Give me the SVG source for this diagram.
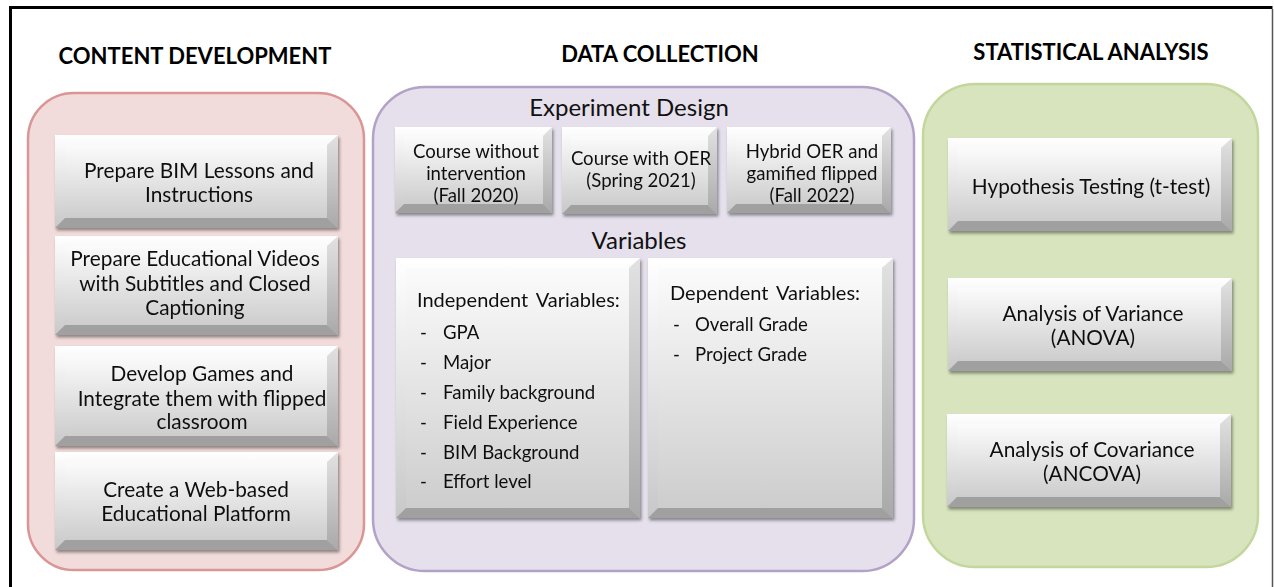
<svg xmlns="http://www.w3.org/2000/svg" width="1274" height="587" viewBox="0 0 1274 587">
<defs>
<linearGradient id="edge" x1="0" y1="0" x2="0" y2="1"><stop offset="0" stop-color="#ffffff"/><stop offset="1" stop-color="#c8c8c8"/></linearGradient>
<linearGradient id="face" x1="0" y1="0" x2="0" y2="1"><stop offset="0" stop-color="#fbfbfb"/><stop offset="1" stop-color="#cdcdcd"/></linearGradient>
<linearGradient id="rgt" x1="0" y1="0" x2="0" y2="1"><stop offset="0" stop-color="#e2e2e2"/><stop offset="1" stop-color="#a9a9a9"/></linearGradient>
<filter id="sh" x="-5%" y="-5%" width="115%" height="120%"><feDropShadow dx="1.5" dy="2.5" stdDeviation="1.5" flood-color="#000" flood-opacity="0.4"/></filter>
</defs>
<style>
text{font-family:Lato,"Open Sans","Liberation Sans",sans-serif;fill:#111}
.hd{font-size:22px;font-weight:bold;text-anchor:middle;fill:#000}
.bx{font-size:20.8px;text-anchor:middle}
.sm{font-size:18.6px;text-anchor:middle}
.sub{font-size:24px;text-anchor:middle}
.lst{font-size:18.6px}
.lh{font-size:20px;word-spacing:3px}
.bottom{fill:#a0a0a0}
.right{fill:url(#rgt)}
.face{fill:url(#face)}
.base{fill:url(#edge)}
</style>
<rect width="1274" height="587" fill="#ffffff"/>
<path d="M10.5 590 V7.5 H1272.5" fill="none" stroke="#000" stroke-width="3"/>
<path d="M1272.5 9 V590" fill="none" stroke="#555" stroke-width="1.5"/>

<g id="content-development">
<text class="hd" x="195" y="64">CONTENT DEVELOPMENT</text>
<rect x="28" y="93" width="336" height="477" rx="46" fill="#f2dcdb" stroke="#d99694" stroke-width="2.5"/>
</g>
<g id="data-collection">
<text class="hd" x="660" y="62">DATA COLLECTION</text>
<rect x="373" y="87" width="541" height="484" rx="52" fill="#e5e0ec" stroke="#b3a2c7" stroke-width="2.5"/>
<text class="sub" x="629" y="116">Experiment Design</text>
<text class="sub" x="639" y="249">Variables</text>
</g>
<g id="statistical-analysis">
<text class="hd" x="1091" y="60">STATISTICAL ANALYSIS</text>
<rect x="923" y="84" width="335" height="483" rx="52" fill="#d7e4bd" stroke="#c3d69b" stroke-width="2.5"/>
</g>

<g id="prepare-bim" filter="url(#sh)">
<rect class="base" x="55" y="135" width="283" height="93"/>
<polygon class="right" points="338,135 338,228 327,218 327,145"/>
<polygon class="bottom" points="55,228 65,218 327,218 338,228"/>
<rect class="face" x="65" y="145" width="262" height="73"/>
<text class="bx" x="199" y="178">Prepare BIM Lessons and</text>
<text class="bx" x="199" y="202">Instructions</text>
</g>
<g id="prepare-videos" filter="url(#sh)">
<rect class="base" x="55" y="236" width="283" height="99"/>
<polygon class="right" points="338,236 338,335 327,325 327,246"/>
<polygon class="bottom" points="55,335 65,325 327,325 338,335"/>
<rect class="face" x="65" y="246" width="262" height="79"/>
<text class="bx" x="195" y="266">Prepare Educational Videos</text>
<text class="bx" x="195" y="291">with Subtitles and Closed</text>
<text class="bx" x="195" y="315">Captioning</text>
</g>
<g id="develop-games" filter="url(#sh)">
<rect class="base" x="55" y="346" width="283" height="100"/>
<polygon class="right" points="338,346 338,446 327,436 327,356"/>
<polygon class="bottom" points="55,446 65,436 327,436 338,446"/>
<rect class="face" x="65" y="356" width="262" height="80"/>
<text class="bx" x="202" y="381">Develop Games and</text>
<text class="bx" x="202" y="406">Integrate them with flipped</text>
<text class="bx" x="202" y="429">classroom</text>
</g>
<g id="web-platform" filter="url(#sh)">
<rect class="base" x="55" y="452" width="283" height="98"/>
<polygon class="right" points="338,452 338,550 327,540 327,462"/>
<polygon class="bottom" points="55,550 65,540 327,540 338,550"/>
<rect class="face" x="65" y="462" width="262" height="78"/>
<text class="bx" x="196" y="497">Create a Web-based</text>
<text class="bx" x="196" y="521">Educational Platform</text>
</g>

<g id="course-without" filter="url(#sh)">
<rect class="base" x="395" y="127" width="157" height="86"/>
<polygon class="right" points="552,127 552,213 543,204 543,136"/>
<polygon class="bottom" points="395,213 404,204 543,204 552,213"/>
<rect class="face" x="404" y="136" width="139" height="68"/>
<text class="sm" x="476" y="158">Course without</text>
<text class="sm" x="476" y="180">intervention</text>
<text class="sm" x="476" y="202">(Fall 2020)</text>
</g>
<g id="course-oer" filter="url(#sh)">
<rect class="base" x="562" y="127" width="155" height="87"/>
<polygon class="right" points="717,127 717,214 708,205 708,136"/>
<polygon class="bottom" points="562,214 571,205 708,205 717,214"/>
<rect class="face" x="571" y="136" width="137" height="69"/>
<text class="sm" x="641" y="165">Course with OER</text>
<text class="sm" x="641" y="187">(Spring 2021)</text>
</g>
<g id="hybrid" filter="url(#sh)">
<rect class="base" x="727" y="127" width="164" height="86"/>
<polygon class="right" points="891,127 891,213 882,204 882,136"/>
<polygon class="bottom" points="727,213 736,204 882,204 891,213"/>
<rect class="face" x="736" y="136" width="146" height="68"/>
<text class="sm" x="812" y="158">Hybrid OER and</text>
<text class="sm" x="812" y="180">gamified flipped</text>
<text class="sm" x="812" y="202">(Fall 2022)</text>
</g>

<g id="independent-variables" filter="url(#sh)">
<rect class="base" x="396" y="258" width="244" height="260"/>
<polygon class="right" points="640,258 640,518 629,508 629,268"/>
<polygon class="bottom" points="396,518 406,508 629,508 640,518"/>
<rect class="face" x="406" y="268" width="223" height="240"/>
<text class="lh" x="417" y="307">Independent Variables:</text>
<g class="lst">
<text x="420" y="339">-</text><text x="443" y="339">GPA</text>
<text x="420" y="369">-</text><text x="443" y="369">Major</text>
<text x="420" y="399">-</text><text x="443" y="399">Family background</text>
<text x="420" y="429">-</text><text x="443" y="429">Field Experience</text>
<text x="420" y="459">-</text><text x="443" y="459">BIM Background</text>
<text x="420" y="488">-</text><text x="443" y="488">Effort level</text>
</g>
</g>
<g id="dependent-variables" filter="url(#sh)">
<rect class="base" x="648" y="258" width="245" height="260"/>
<polygon class="right" points="893,258 893,518 882,508 882,268"/>
<polygon class="bottom" points="648,518 658,508 882,508 893,518"/>
<rect class="face" x="658" y="268" width="224" height="240"/>
<text class="lh" x="670" y="300">Dependent Variables:</text>
<g class="lst">
<text x="673" y="331">-</text><text x="695" y="331">Overall Grade</text>
<text x="673" y="361">-</text><text x="695" y="361">Project Grade</text>
</g>
</g>

<g id="hypothesis-testing" filter="url(#sh)">
<rect class="base" x="948" y="138" width="284" height="93"/>
<polygon class="right" points="1232,138 1232,231 1221,221 1221,148"/>
<polygon class="bottom" points="948,231 958,221 1221,221 1232,231"/>
<rect class="face" x="958" y="148" width="263" height="73"/>
<text class="bx" x="1091" y="194">Hypothesis Testing (t-test)</text>
</g>
<g id="anova" filter="url(#sh)">
<rect class="base" x="948" y="278" width="284" height="93"/>
<polygon class="right" points="1232,278 1232,371 1221,361 1221,288"/>
<polygon class="bottom" points="948,371 958,361 1221,361 1232,371"/>
<rect class="face" x="958" y="288" width="263" height="73"/>
<text class="bx" x="1093" y="321">Analysis of Variance</text>
<text class="bx" x="1093" y="345">(ANOVA)</text>
</g>
<g id="ancova" filter="url(#sh)">
<rect class="base" x="947" y="414" width="284" height="93"/>
<polygon class="right" points="1231,414 1231,507 1220,497 1220,424"/>
<polygon class="bottom" points="947,507 957,497 1220,497 1231,507"/>
<rect class="face" x="957" y="424" width="263" height="73"/>
<text class="bx" x="1092" y="457">Analysis of Covariance</text>
<text class="bx" x="1092" y="481">(ANCOVA)</text>
</g>
<g id="connectors"/>
</svg>
